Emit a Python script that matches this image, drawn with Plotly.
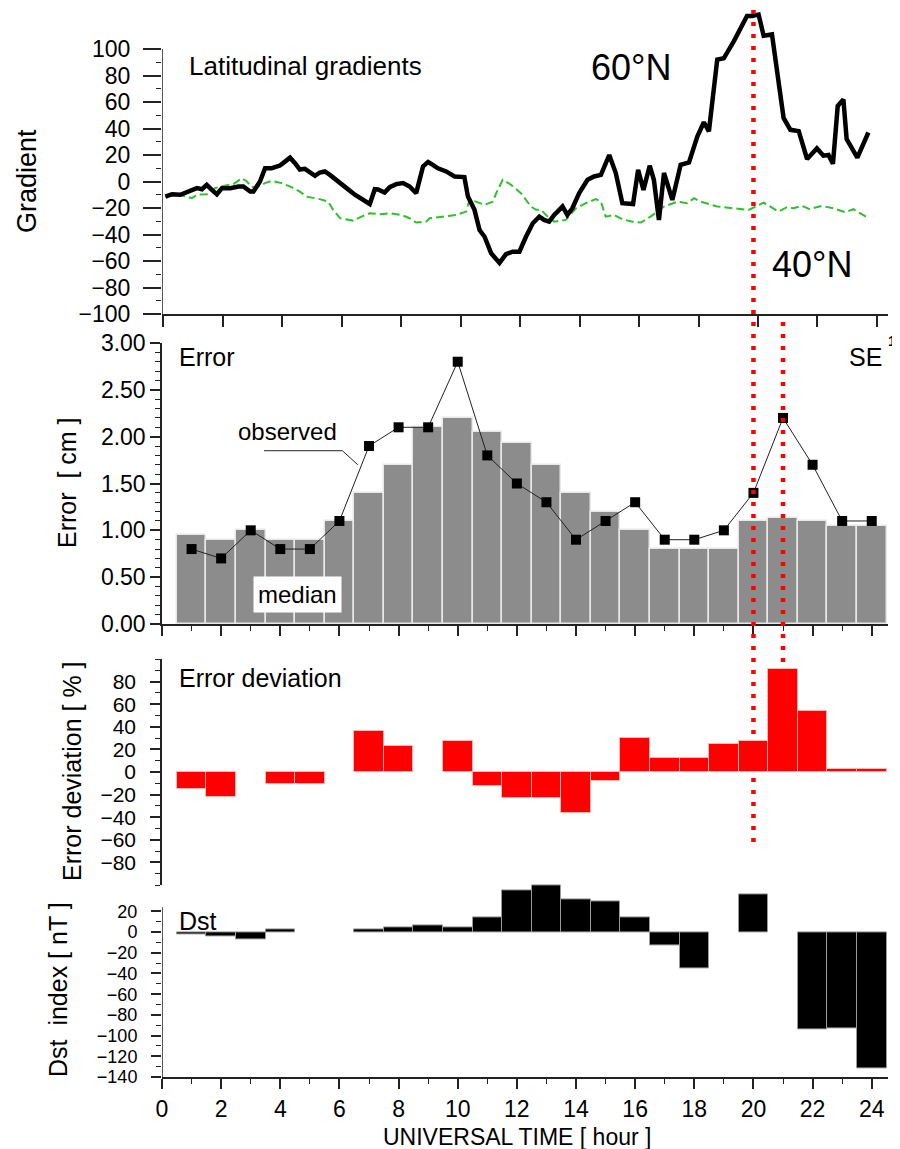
import plotly.graph_objects as go

hours = list(range(1, 25))

# Latitudinal gradients, 60N (black) and 40N (green dashed)
grad60_t = [0.08, 0.30, 0.58, 0.86, 1.14, 1.31, 1.47, 1.64, 1.81, 1.98, 2.26, 2.54, 2.70, 2.93, 3.04,
            3.26, 3.43, 3.65, 3.93, 4.10, 4.27, 4.43, 4.60, 4.77, 4.94, 5.11, 5.27, 5.44, 5.61, 5.89,
            6.17, 6.45, 6.73, 6.95, 7.12, 7.23, 7.45, 7.62, 7.84, 8.07, 8.29, 8.51, 8.74, 8.91, 9.07,
            9.24, 9.52, 9.80, 10.13, 10.25, 10.47, 10.64, 10.81, 11.03, 11.31, 11.53, 11.76, 11.98,
            12.20, 12.43, 12.65, 12.81, 12.98, 13.15, 13.43, 13.59, 13.76, 13.99, 14.27, 14.49, 14.72,
            15.00, 15.22, 15.44, 15.80, 15.97, 16.15, 16.36, 16.50, 16.67, 16.84, 17.12, 17.40, 17.68,
            17.96, 18.18, 18.35, 18.63, 18.85, 19.19, 19.63, 19.80, 20.02, 20.19, 20.47, 20.86, 21.09,
            21.37, 21.65, 21.98, 22.20, 22.37, 22.52, 22.68, 22.87, 22.98, 23.34, 23.71]
grad60_v = [-11.4, -9.6, -10, -7.6, -5, -5.8, -2.5, -6.3, -9.6, -5, -5, -3.8, -3.8, -7.6, -7.6,
            0, 10, 10, 12, 15, 18, 14, 9, 9.6, 6.8, 4.3, 6.8, 7.6, 5, 0.5,
            -5, -10, -14, -17, -5.8, -6, -8.3, -4.3, -2, -1.2, -3.8, -8.8, 11.4, 14.7, 12.6,
            10, 7.6, 3.8, 3.3, -11.4, -21.4, -36.6, -41.7, -54.2, -61.4, -54.8, -53, -53,
            -41.7, -31.5, -26.5, -29, -30.3, -25.2, -18.9, -25.2, -20.2, -8.8, 1.3, 3.8, 5,
            20, 6.4, -16.4, -17, 8.9, -6.3, 11.9, 1.3, -29, 6.4, -13.9, 12.6, 14.4,
            34, 44.7, 37.9, 92, 93, 106, 125, 125, 126, 110, 111, 48, 39,
            38, 17, 25, 19.5, 20, 13.4, 57, 62, 32, 18, 37]

grad40_t = [0.08, 0.47, 0.80, 0.97, 1.14, 1.47, 1.75, 2.03, 2.37, 2.65, 2.82, 2.98, 3.21, 3.43, 3.65,
            3.99, 4.32, 4.60, 4.83, 5.27, 5.55, 5.72, 5.95, 6.39, 6.67, 6.95, 7.29, 7.62, 8.01, 8.29,
            8.51, 8.85, 8.96, 9.41, 9.86, 10.19, 10.30, 10.52, 10.81, 11.09, 11.20, 11.42, 11.70, 12.03,
            12.37, 12.54, 12.71, 12.93, 13.15, 13.54, 13.88, 14.21, 14.55, 14.72, 14.88, 15.16, 15.44,
            15.78, 16.06, 16.39, 16.84, 17.29, 17.62, 17.85, 18.07, 18.63, 19.19, 19.69, 20.19, 20.69,
            20.97, 21.19, 21.47, 21.74, 22.14, 22.54, 22.93, 23.21, 23.71]
grad40_v = [-11.4, -10, -11.4, -12.6, -10, -9.6, -5, -3.3, -2, 2.5, 0, -4.3, -3.8, -1.2, 0.5,
            -1.2, -4.3, -7.6, -11.4, -13.3, -15.2, -21.4, -27.7, -29.5, -26.5, -24, -24.7, -24, -25.2, -27.7,
            -31, -30.3, -27.7, -26.5, -25.2, -22.7, -13.9, -15.2, -17.6, -15.2, -8.8, 1.3, -2.5, -8.8,
            -18.9, -21.4, -21.4, -26.5, -30.3, -29, -20.2, -16.4, -13.3, -15.2, -26.5, -25.2, -28.5,
            -30.3, -31, -26.5, -18.9, -15.2, -16.4, -12.6, -15.2, -18.9, -20.2, -21.4, -15.9, -22.7,
            -19.4, -20.2, -18.4, -20.9, -18.4, -20.2, -23.2, -20.9, -27.7]

# Error [cm]: median (bars) and observed (squares)
err_median = [0.95, 0.9, 1.0, 0.9, 0.9, 1.1, 1.4, 1.7, 2.1, 2.2, 2.05, 1.93,
              1.7, 1.4, 1.2, 1.0, 0.8, 0.8, 0.8, 1.1, 1.13, 1.1, 1.05, 1.05]
err_observed = [0.8, 0.7, 1.0, 0.8, 0.8, 1.1, 1.9, 2.1, 2.1, 2.8, 1.8, 1.5,
                1.3, 0.9, 1.1, 1.3, 0.9, 0.9, 1.0, 1.4, 2.2, 1.7, 1.1, 1.1]

# Error deviation [%]
err_dev = [-15, -22, None, -11, -11, None, 36, 23, None, 27, -12, -23,
           -23, -36, -8, 30, 12, 12, 25, 27, 91, 54, 2.5, 2.5]

# Dst index [nT]
dst = [-2, -4, -7, 3, None, None, 3, 5, 6, 5, 14, 40,
       45, 32, 30, 14.5, -13, -35, None, 36, None, -94, -93, -132]

FONT = "Liberation Sans, Arial, sans-serif"
AX = "#222222"

# the page body adds an 8px margin, so the figure is laid out 8px up/left
OFF = 8
W, H = 900 - OFF, 1149 - OFF
LEFT, RIGHT, TOP, BOTTOM = 162, 888, 8, 1077   # plot area in reference pixels

def fx(px):
    return (px - LEFT) / (RIGHT - LEFT)

def fy(py):
    return (BOTTOM - py) / (BOTTOM - TOP)

fig = go.Figure()

fig.add_trace(go.Scatter(x=grad40_t, y=grad40_v, mode="lines", xaxis="x", yaxis="y",
                         line=dict(color="#2fbf2f", width=2, dash="8px,4px")))
fig.add_trace(go.Scatter(x=grad60_t, y=grad60_v, mode="lines", xaxis="x", yaxis="y",
                         line=dict(color="black", width=4.5)))

fig.add_trace(go.Bar(x=hours, y=err_median, width=1, xaxis="x2", yaxis="y2",
                     marker=dict(color="#8c8c8c", line=dict(color="#e8e8e8", width=1.5))))
fig.add_trace(go.Scatter(x=hours, y=err_observed, mode="lines+markers", xaxis="x2", yaxis="y2",
                         line=dict(color="#222222", width=1),
                         marker=dict(symbol="square", size=10, color="black")))

fig.add_trace(go.Bar(x=hours, y=err_dev, width=1, xaxis="x3", yaxis="y3",
                     marker=dict(color="#ff0000", line=dict(color="#ffb4b4", width=1))))

fig.add_trace(go.Bar(x=hours, y=dst, width=1, xaxis="x4", yaxis="y4",
                     marker=dict(color="black", line=dict(color="#9a9a9a", width=1))))

tickfont = dict(family=FONT, size=22, color="black")
minor_x = dict(dtick=1, ticks="outside", ticklen=5, tickcolor=AX, tickwidth=1.2)

def xax(anchor, **kw):
    d = dict(domain=[0, 1], anchor=anchor, range=[0, 24.55], showgrid=False, zeroline=False,
             showline=True, linecolor=AX, linewidth=1.5, ticks="outside", tickcolor=AX,
             tickwidth=1.5, ticklen=10, tickvals=list(range(0, 25, 2)), automargin=False,
             showticklabels=False, tickfont=tickfont)
    d.update(kw)
    return d

def yax(domain, rng, tickvals, minorvals, anchor, fmt=None, **kw):
    d = dict(domain=domain, range=rng, anchor=anchor, showgrid=False, zeroline=False,
             showline=True, linecolor=AX, linewidth=1.5, ticks="outside", tickcolor=AX,
             tickwidth=1.5, ticklen=10, tickvals=tickvals, automargin=False,
             minor=dict(tickvals=minorvals, ticks="outside", ticklen=5, tickcolor=AX, tickwidth=1.2),
             tickfont=tickfont)
    if fmt:
        d["tickformat"] = fmt
    d.update(kw)
    return d

fig.update_layout(
    width=W, height=H,
    margin=dict(l=LEFT - OFF, r=W - (RIGHT - OFF), t=TOP - OFF, b=H - (BOTTOM - OFF), pad=0),
    plot_bgcolor="white", paper_bgcolor="white",
    showlegend=False, bargap=0,
    font=dict(family=FONT, color="black"),
    xaxis=xax("y", range=[-0.034, 24.37], ticklen=11),
    xaxis2=xax("y2", minor=minor_x),
    xaxis3=xax("y3", showline=False, ticks=""),
    xaxis4=xax("y4", showticklabels=True, ticklabelstandoff=1, minor=minor_x,
               tickfont=dict(family=FONT, size=23, color="black")),
    yaxis=yax([fy(314), fy(9.25)], [-100, 130], list(range(-100, 101, 20)),
              list(range(-90, 100, 20)), "x", showline=False, ticklen=18, ticklabelstandoff=8,
              tickfont=dict(family=FONT, size=23, color="black")),
    yaxis2=yax([fy(624), fy(343)], [0, 3.0], [0, 0.5, 1.0, 1.5, 2.0, 2.5, 3.0],
               [round(0.1 * i, 1) for i in range(31)], "x2", fmt=".2f",
               tickfont=dict(family=FONT, size=23, color="black")),
    yaxis3=yax([fy(885), fy(659)], [-100, 100], list(range(-80, 81, 20)),
               list(range(-100, 101, 10)), "x3", ticklabelstandoff=10,
               tickfont=dict(family=FONT, size=21, color="black")),
    yaxis4=yax([0, fy(882.4)], [-140, 48], list(range(-140, 21, 20)),
               list(range(-140, 21, 10)), "x4", showline=False, ticklabelstandoff=10,
               tickfont=dict(family=FONT, size=18, color="black")),
)

shapes = [
    # left axis lines that stop at the last labelled tick
    dict(type="line", xref="x", yref="y", x0=-0.034, x1=-0.034, y0=-100, y1=100,
         line=dict(color=AX, width=1.5)),
    dict(type="line", xref="x4", yref="y4", x0=0, x1=0, y0=-140, y1=24,
         line=dict(color=AX, width=1.5)),
    # red dotted markers at 20 and 21 UT
    dict(type="line", xref="x2", yref="paper", x0=20, x1=20, y0=fy(842), y1=fy(10),
         line=dict(color="#ff0000", width=4.5, dash="4px,8px")),
    dict(type="line", xref="x2", yref="paper", x0=21, x1=21, y0=fy(662), y1=fy(322),
         line=dict(color="#ff0000", width=4.5, dash="4px,8px")),
    # leader line of the "observed" label
    dict(type="path", xref="x2", yref="y2", path="M 3.45,1.85 L 6.1,1.85 L 6.62,1.70",
         line=dict(color="#222222", width=1)),
]
fig.update_layout(shapes=shapes)

def label(text, px, py, size, xanchor="center", angle=0, **kw):
    fig.add_annotation(text=text, x=fx(px), y=fy(py), xref="paper", yref="paper",
                       xanchor=xanchor, yanchor="middle", showarrow=False, textangle=angle,
                       font=dict(family=FONT, size=size, color="black"), **kw)

label("Latitudinal gradients", 187, 66, 26, xanchor="left")
label("60°N", 631, 68, 36)
label("40°N", 812, 265, 36)
label("Error", 177, 357, 25, xanchor="left")
label("SE", 865, 357, 25)
label("<b>1</b>", 886, 341, 15, xanchor="left")
label("observed", 287, 432, 24)
label("median", 297, 594, 24, bgcolor="white", borderpad=4)
label("Error deviation", 177, 678, 25, xanchor="left")
label("Dst", 177, 921, 25, xanchor="left")

label("Gradient", 27, 181, 27, angle=-90)
label("Error  [ cm ]", 67, 483, 25, angle=-90)
label("Error deviation [ % ]", 72, 771, 25, angle=-90)
label("Dst  index [ nT ]", 58, 990, 25, angle=-90)
label("UNIVERSAL TIME [ hour ]", 517, 1137, 23)

fig.write_html("out.html")
